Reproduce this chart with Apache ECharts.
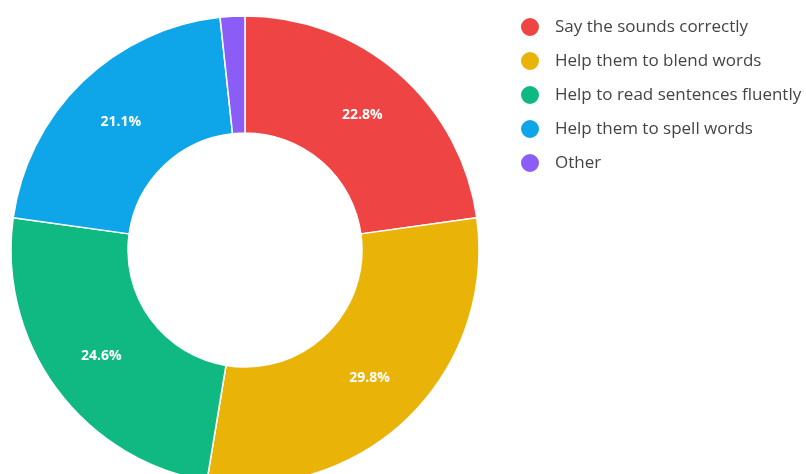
<!DOCTYPE html>
<html>
<head>
<meta charset="utf-8">
<script src="https://cdn.jsdelivr.net/npm/echarts@6/dist/echarts.min.js"></script>
<style>
html,body{margin:0;padding:0;background:#fff;}
#chart{width:806px;height:474px;}
</style>
</head>
<body>
<div id="chart"></div>
<script>
var categories = ['Say the sounds correctly','Help them to blend words','Help to read sentences fluently','Help them to spell words','Other'];
var values = [22.8, 29.8, 24.6, 21.1, 1.7];
var colors = ['#ef4444','#eab308','#10b981','#0ea5e9','#8b5cf6'];

var data = categories.map(function(c,i){
  return {name:c, value:values[i], itemStyle:{color:colors[i]}};
});

var chart = echarts.init(document.getElementById('chart'));
chart.setOption({
  animation:false,
  legend:{
    orient:'vertical',
    left:514,
    top:11,
    icon:'circle',
    itemWidth:20,
    itemHeight:20,
    itemGap:12,
    textStyle:{fontFamily:'Open Sans',fontSize:17,color:'#444',padding:[0,0,0,10]},
    data:categories
  },
  series:[{
    type:'pie',
    center:[245,250],
    radius:[117,234],
    startAngle:90,
    clockwise:true,
    minShowLabelAngle:10,
    itemStyle:{borderColor:'#fff',borderWidth:1.5},
    label:{
      show:true,
      position:'inside',
      formatter:function(p){return p.value.toFixed(1)+'%';},
      color:'#fff',
      fontFamily:'Open Sans',
      fontWeight:'bold',
      fontSize:14
    },
    labelLine:{show:false},
    emphasis:{disabled:true},
    data:data
  }]
});
</script>
</body>
</html>
